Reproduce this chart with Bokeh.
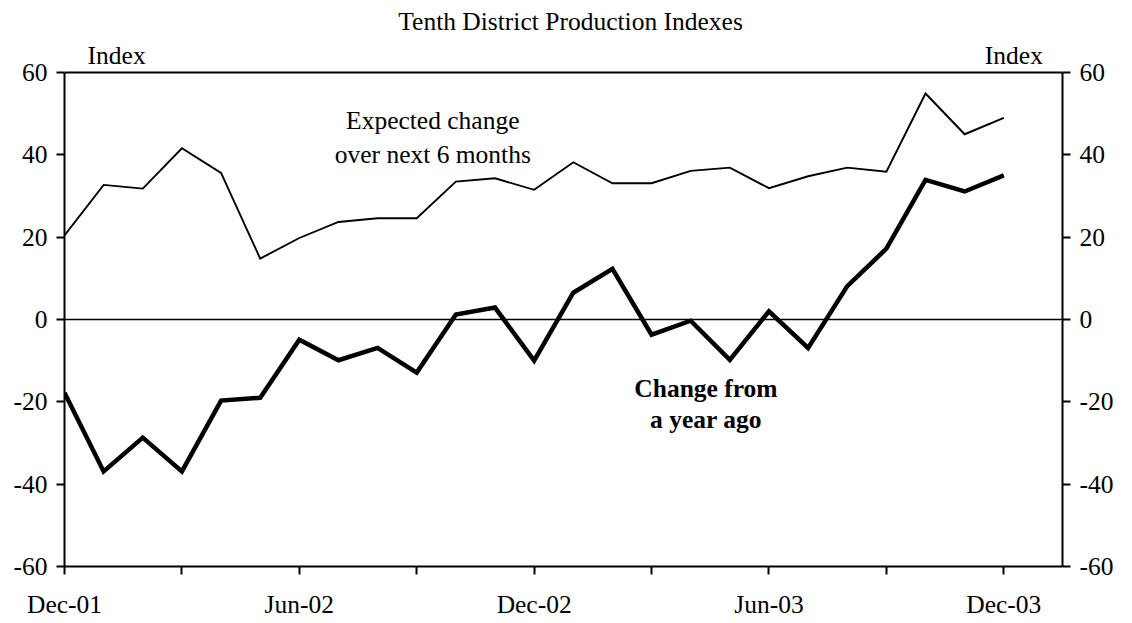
from bokeh.plotting import figure
from bokeh.models import Range1d, LinearAxis, FixedTicker, Span, Label
from bokeh.embed import file_html
from bokeh.resources import INLINE

# ---- data ----
months = ["Dec-01", "Jan-02", "Feb-02", "Mar-02", "Apr-02", "May-02", "Jun-02",
          "Jul-02", "Aug-02", "Sep-02", "Oct-02", "Nov-02", "Dec-02",
          "Jan-03", "Feb-03", "Mar-03", "Apr-03", "May-03", "Jun-03",
          "Jul-03", "Aug-03", "Sep-03", "Oct-03", "Nov-03", "Dec-03"]
expected_change = [20.4, 32.7, 31.8, 41.6, 35.6, 14.8, 19.8, 23.7, 24.6, 24.6,
                   33.5, 34.3, 31.5, 38.2, 33.1, 33.1, 36.1, 36.9, 31.9, 34.8,
                   36.9, 35.9, 54.9, 45.0, 49.0]
year_change = [-17.8, -36.9, -28.7, -36.9, -19.7, -19.0, -4.9, -9.9, -6.9, -12.9,
               1.2, 2.9, -10.0, 6.5, 12.3, -3.7, -0.3, -9.8, 2.0, -6.9,
               8.1, 17.2, 33.9, 31.1, 35.0]
tick_months = ["Dec-01", "Mar-02", "Jun-02", "Sep-02", "Dec-02",
               "Mar-03", "Jun-03", "Sep-03", "Dec-03"]
labelled_months = ["Dec-01", "Jun-02", "Dec-02", "Jun-03", "Dec-03"]
y_ticks = [-60, -40, -20, 0, 20, 40, 60]

title_text = "Tenth District Production Indexes"
FONT = "Liberation Serif"
FS = "25.5px"

x = list(range(len(months)))
tick_pos = [months.index(m) for m in tick_months]
x_overrides = {months.index(m): (m if m in labelled_months else "") for m in tick_months}
y_overrides = {v: str(v) for v in y_ticks}

Y_TOP = 60 + 72 / (494 / 120.0)   # extra room above the axes box for title texts

p = figure(frame_width=998, frame_height=566, output_backend="svg", toolbar_location=None,
           x_range=Range1d(0, 25.5), y_range=Range1d(-60, Y_TOP),
           min_border_left=64, min_border_top=0, min_border_right=5,
           min_border_bottom=5)
p.title.text = ""
p.title.visible = False

p.background_fill_color = "white"
p.border_fill_color = "white"
p.outline_line_color = None
p.xgrid.visible = False
p.ygrid.visible = False

ra = LinearAxis()
p.add_layout(ra, "right")

for ax in [p.yaxis[0], ra]:
    ax.ticker = FixedTicker(ticks=y_ticks)
    ax.major_label_overrides = y_overrides
    ax.bounds = (-60, 60)
    ax.major_label_standoff = 9

p.xaxis.ticker = FixedTicker(ticks=tick_pos)
p.xaxis.major_label_overrides = x_overrides
p.xaxis.major_label_standoff = 15

for ax in p.xaxis + p.yaxis:
    ax.axis_line_color = "black"
    ax.axis_line_width = 2
    ax.major_tick_line_color = "black"
    ax.major_tick_line_width = 2
    ax.major_tick_out = 8
    ax.major_tick_in = 0
    ax.minor_tick_line_color = None
    ax.major_label_text_font = FONT
    ax.major_label_text_font_size = FS
    ax.major_label_text_color = "black"

# top border of the axes box and the zero line
p.add_layout(Span(location=60, dimension="width", line_color="black", line_width=2))
p.add_layout(Span(location=0, dimension="width", line_color="black", line_width=1.5))

p.line(x, expected_change, line_color="black", line_width=1.9, line_join="miter")
p.line(x, year_change, line_color="black", line_width=4.5, line_join="miter")

def lab(xv, yv, text, align="center", bold=False):
    p.add_layout(Label(x=xv, y=yv, y_offset=7, text=text, text_align=align,
                       text_baseline="alphabetic", text_font=FONT, text_font_size=FS,
                       text_font_style="bold" if bold else "normal", text_color="black"))

lab(12.93, 70.69, title_text)
lab(0.59, 62.5, "Index", align="left")
lab(25.0, 62.5, "Index", align="right")
lab(9.41, 46.6, "Expected change")
lab(9.41, 38.4, "over next 6 months")
lab(16.39, -18.5, "Change from", bold=True)
lab(16.39, -25.9, "a year ago", bold=True)

open("out.html", "w").write(file_html(p, INLINE))
